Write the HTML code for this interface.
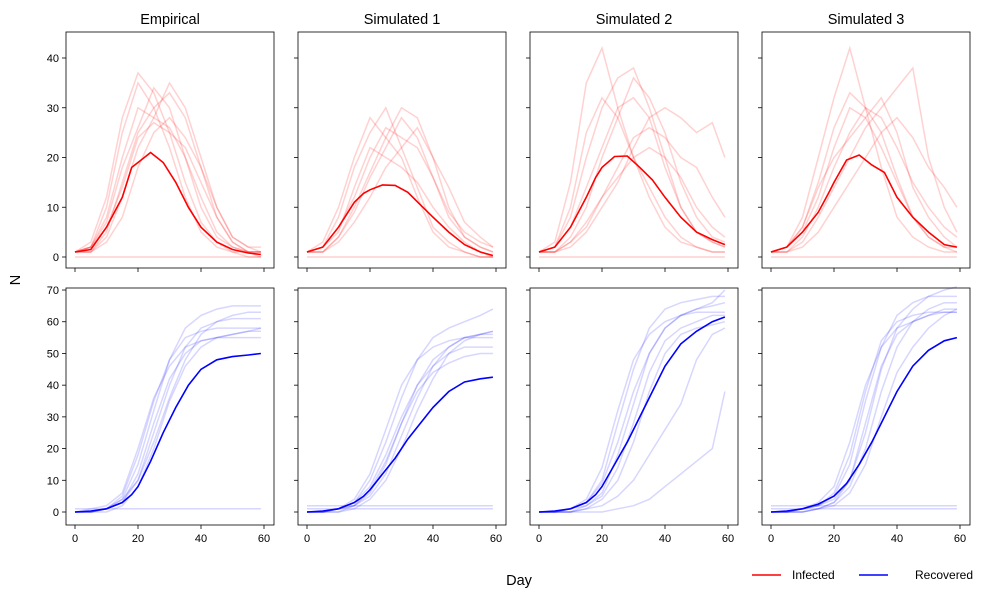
<!DOCTYPE html>
<html><head><meta charset="utf-8"><style>
body{margin:0;background:#fff;}
svg{display:block;font-family:"Liberation Sans",sans-serif;}
</style></head><body>
<svg id="fig" width="1003" height="599" viewBox="0 0 1003 599"></svg>
<script>
const days = [0,5,10,15,20,25,30,35,40,45,50,55,59];
const meanDays = [0,5,10,15,18,20,24,28,32,36,40,45,50,55,59];
const titles = ["Empirical","Simulated 1","Simulated 2","Simulated 3"];
const xTicks = [0,20,40,60];
const yTicksTop = [0,10,20,30,40];
const yTicksBot = [0,10,20,30,40,50,60,70];

const meanInf = [
 [1,1.5,6,12,18,19,21,19,15,10,6,3,1.5,0.8,0.5],
 [1,2,6,11,12.8,13.5,14.5,14.4,13,10.5,8,5,2.5,1,0.3],
 [1,2,6,12,16,18,20.2,20.3,18,15.5,12,8,5,3.5,2.5],
 [1,2,5,9,12.5,15,19.5,20.5,18.5,17,12,8,5,2.5,2]
];
const meanRec = [
 [0,0.3,1,3,5.5,8,16,25,33,40,45,48,49,49.5,50],
 [0,0.3,1,3,5,7,12,17,23,28,33,38,41,42,42.5],
 [0,0.3,1,3,5.5,8,15,22,30,38,46,53,57,60,61.5],
 [0,0.3,1,2.5,4,5,9,15,22,30,38,46,51,54,55]
];
const faintInf = [
 [[1,2,10,25,35,30,22,12,5,2,1,1,1],[1,3,12,28,37,33,25,15,7,3,1,0,0],[1,1,5,15,25,30,33,28,18,8,3,1,1],[1,2,8,20,30,28,26,20,12,5,2,1,1],[1,1,4,12,22,28,35,30,20,10,4,2,2],[1,2,6,14,24,27,25,22,15,8,3,1,1],[1,1,3,8,18,25,28,24,18,10,4,2,1],[1,2,7,18,26,34,30,20,10,4,2,1,0],[0,0,0,0,0,0,0,0,0,0,0,0,0]],
 [[1,2,8,18,25,30,22,14,6,3,1,0,0],[1,3,10,20,28,24,20,12,5,2,1,0,0],[1,1,4,10,17,24,30,28,20,10,4,2,1],[1,2,6,12,20,26,24,22,16,8,4,2,1],[1,1,3,7,12,18,22,26,20,14,7,4,2],[1,2,5,14,22,20,18,15,10,6,3,1,0],[1,1,4,9,16,22,28,24,16,9,5,3,2],[0,0,0,0,0,0,0,0,0,0,0,0,0]],
 [[1,3,15,35,42,30,20,12,6,3,2,1,1],[1,2,8,20,30,36,38,30,20,10,5,3,2],[1,1,4,10,20,28,36,32,25,15,8,4,3],[1,2,6,14,22,30,32,28,18,10,5,3,2],[1,1,2,5,10,15,22,28,30,28,25,27,20],[1,1,3,6,12,18,24,26,24,20,18,12,8],[1,2,10,25,32,28,20,14,8,4,2,1,1],[1,1,3,7,12,16,20,22,20,16,10,6,4],[0,0,0,0,0,0,0,0,0,0,0,0,0]],
 [[1,2,8,20,32,42,30,18,8,4,2,1,1],[1,2,6,15,26,33,30,25,16,8,4,2,2],[1,1,3,8,14,20,26,30,34,38,20,10,5],[1,2,5,12,22,30,28,22,15,8,4,2,1],[1,1,4,10,18,25,30,28,22,15,10,6,4],[1,2,6,14,20,24,28,32,25,14,8,4,2],[1,1,2,5,10,15,20,25,28,24,18,14,10],[0,0,0,0,0,0,0,0,0,0,0,0,0]]
];
const faintRec = [
 [[0,0,1,4,15,32,48,58,62,64,65,65,65],[0,0,1,3,10,25,40,52,58,60,62,63,63],[0,0,1,5,18,35,48,55,57,58,58,58,58],[0,0,0,2,8,20,35,46,52,55,56,57,57],[0,0,1,3,12,28,42,50,54,55,55,55,55],[0,1,2,6,20,36,46,52,54,55,56,57,58],[0,0,1,4,10,22,36,48,56,60,61,61,61],[1,1,1,1,1,1,1,1,1,1,1,1,1]],
 [[0,0,1,3,10,22,36,48,55,58,60,62,64],[0,0,1,2,6,15,28,40,48,52,55,56,57],[0,0,0,2,5,12,24,36,46,52,55,56,56],[0,0,1,4,12,26,40,48,52,54,55,55,55],[0,0,1,3,8,18,30,40,46,50,52,52,52],[0,0,0,1,4,10,20,32,42,50,54,56,57],[0,0,1,2,7,16,28,38,44,47,49,50,50],[1,1,1,1,1,1,1,1,1,1,1,1,1],[2,2,2,2,2,2,2,2,2,2,2,2,2]],
 [[0,0,1,3,10,28,45,58,64,66,67,68,68],[0,0,1,4,14,32,48,56,60,62,63,63,63],[0,0,0,2,6,18,34,50,58,62,64,65,66],[0,0,1,3,9,22,38,50,58,62,64,66,70],[0,0,1,2,5,14,28,44,54,58,60,62,62],[0,0,0,1,4,10,22,38,50,56,58,59,60],[0,0,0,1,2,5,10,18,26,34,48,56,58],[0,0,0,0,0,1,2,4,8,12,16,20,38]],
 [[0,0,1,2,5,15,35,52,62,66,68,68,68],[0,0,1,2,4,10,25,45,58,64,68,70,71],[0,0,0,1,3,8,20,38,52,60,64,66,66],[0,0,1,2,6,18,38,54,60,62,63,63,63],[0,0,0,1,3,10,28,46,56,60,62,63,63],[0,0,1,3,8,22,40,52,58,60,62,64,64],[0,0,0,1,2,6,15,30,44,52,58,62,64],[1,1,1,1,1,1,1,1,1,1,1,1,1],[2,2,2,2,2,2,2,2,2,2,2,2,2]]
];

const NS="http://www.w3.org/2000/svg";
const svg=document.getElementById('fig');
function mk(tag,attrs,parent,text){const e=document.createElementNS(NS,tag);for(const k in attrs)e.setAttribute(k,attrs[k]);if(text!==undefined)e.textContent=text;(parent||svg).appendChild(e);return e;}

const colX0=[66,298,530,762], pw=208;
const rows=[{top:32,bot:268,y0:257,ppu:4.975,ticks:yTicksTop},{top:288,bot:525,y0:512,ppu:3.171,ticks:yTicksBot}];
function xs(c,d){return colX0[c]+9+d*3.15;}
function ys(r,v){return rows[r].y0-v*rows[r].ppu;}
function path(c,r,xd,vals){return vals.map((v,i)=>(i?'L':'M')+xs(c,xd[i]).toFixed(1)+' '+ys(r,v).toFixed(1)).join(' ');}

for(let r=0;r<2;r++){
 for(let c=0;c<4;c++){
  const g=mk('g',{});
  
  
  const R=rows[r];
  const faint=r?faintRec[c]:faintInf[c];
  faint.forEach(s=>{const p=mk('path',{d:path(c,r,days,s),fill:'none',stroke:r?'rgba(0,0,255,0.16)':'rgba(255,0,0,0.18)','stroke-width':1.5},g);
   
   });
  const m=mk('path',{d:path(c,r,meanDays,r?meanRec[c]:meanInf[c]),fill:'none',stroke:r?'#0000ff':'#ff0000','stroke-width':1.6},g);
  
  
  mk('rect',{x:colX0[c],y:R.top,width:pw,height:R.bot-R.top,fill:'none',stroke:'#000','stroke-width':0.8},g);
  xTicks.forEach(t=>{const x=xs(c,t);mk('line',{x1:x,x2:x,y1:R.bot,y2:R.bot+4,stroke:'#000','stroke-width':0.8},g);
   if(r){const tl=mk('text',{x:x,y:R.bot+17,'text-anchor':'middle','font-size':11},g,String(t));
    }});
  R.ticks.forEach(t=>{const y=ys(r,t);mk('line',{x1:colX0[c]-4,x2:colX0[c],y1:y,y2:y,stroke:'#000','stroke-width':0.8},g);
   if(c===0){const tl=mk('text',{x:colX0[c]-7,y:y+4,'text-anchor':'end','font-size':11},g,String(t));
    }});
  if(r===0){const t=mk('text',{x:colX0[c]+pw/2,y:24,'text-anchor':'middle','font-size':14.5},g,titles[c]);
   }
 }
}
const yl=mk('text',{x:20,y:280,'text-anchor':'middle','font-size':14.5,transform:'rotate(-90 20 280)'},svg,'N');

const xl=mk('text',{x:519,y:585,'text-anchor':'middle','font-size':14.5},svg,'Day');

const lg=mk('g',{});
[['Infected','#ff0000',752,792],['Recovered','#0000ff',859,915]].forEach(([n,col,x1,tx])=>{
 const e=mk('g',{},lg);
 mk('line',{x1:x1,x2:x1+29,y1:575,y2:575,stroke:col,'stroke-width':1.6},e);
 mk('text',{x:tx,y:579,'font-size':12},e,n);
});
</script>
</body></html>
